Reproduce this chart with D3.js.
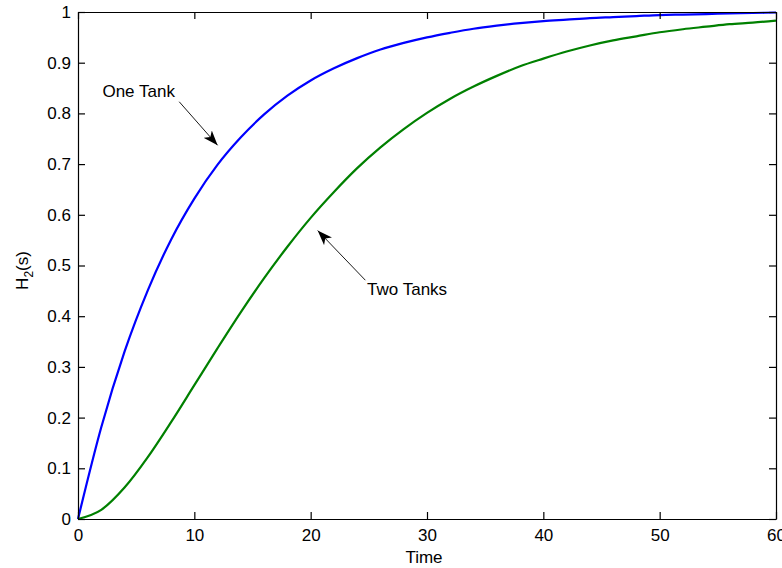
<!DOCTYPE html>
<html>
<head>
<meta charset="utf-8">
<script src="https://d3js.org/d3.v7.min.js"></script>
<style>
  body { margin: 0; background: #fff; }
  text { font-family: Arial, "Liberation Sans", sans-serif; fill: #000; }
</style>
</head>
<body>
<div id="chart"></div>
<script>
// time samples (every 2 time units) and values
var times = [0,2,4,6,8,10,12,14,16,18,20,22,24,26,28,30,32,34,36,38,40,42,44,46,48,50,52,54,56,58,60];
var oneTank = [0,0.181,0.330,0.451,0.551,0.632,0.699,0.753,0.798,0.835,0.865,0.889,0.909,0.926,0.939,0.950,
               0.959,0.967,0.973,0.978,0.982,0.985,0.988,0.990,0.992,0.994,0.995,0.996,0.997,0.998,0.999];
var twoTanks = [0,0.018,0.062,0.122,0.191,0.264,0.337,0.408,0.475,0.537,0.594,0.645,0.692,0.733,0.769,0.801,
                0.829,0.853,0.874,0.893,0.908,0.922,0.934,0.944,0.952,0.960,0.966,0.971,0.976,0.979,0.983];
var xTicks = [0,10,20,30,40,50,60];
var yTicks = [0,0.1,0.2,0.3,0.4,0.5,0.6,0.7,0.8,0.9,1];

// annotations in data units: label position, arrow tail, arrow tip
var notes = [
  {label: "One Tank",  tx: 2.1,   ty: 0.833, x1: 8.7,  y1: 0.823, x2: 12.0, y2: 0.737},
  {label: "Two Tanks", tx: 24.85, ty: 0.442, x1: 24.7, y1: 0.471, x2: 20.6, y2: 0.569}
];

function drawChart(){
    var w = 782, h = 568;
    var left = 78, right = 776, top = 12, bottom = 519;

    var svg = d3.select("#chart").append("svg")
        .attr("width", w).attr("height", h);

    var x = d3.scaleLinear().domain([0, 60]).range([left, right]);
    var y = d3.scaleLinear().domain([0, 1]).range([bottom, top]);

    // lines
    var series = [
        {vals: oneTank, color: "#0000ff"},
        {vals: twoTanks, color: "#008000"}
    ];
    var line = d3.line()
        .x(function(d){ return x(d[0]); })
        .y(function(d){ return y(d[1]); })
        .curve(d3.curveMonotoneX);

    svg.selectAll(".series")
        .data(series)
        .enter()
        .append("path")
        .attr("fill", "none")
        .attr("stroke", function(d){ return d.color; })
        .attr("stroke-width", 2.2)
        .attr("d", function(d){
            return line(times.map(function(t, i){ return [t, d.vals[i]]; }));
        });

    // axes box with inner ticks on all sides
    var fmt = function(d){ return d3.format("")(+d.toFixed(1)); };
    svg.append("g").attr("transform", "translate(0," + bottom + ")")
        .call(d3.axisBottom(x).tickValues(xTicks).tickSizeInner(-7).tickSizeOuter(0).tickPadding(10).tickFormat(fmt));
    svg.append("g").attr("transform", "translate(0," + top + ")")
        .call(d3.axisTop(x).tickValues(xTicks).tickSizeInner(-7).tickSizeOuter(0).tickFormat(""));
    svg.append("g").attr("transform", "translate(" + left + ",0)")
        .call(d3.axisLeft(y).tickValues(yTicks).tickSizeInner(-7).tickSizeOuter(0).tickPadding(7).tickFormat(fmt));
    svg.append("g").attr("transform", "translate(" + right + ",0)")
        .call(d3.axisRight(y).tickValues(yTicks).tickSizeInner(-7).tickSizeOuter(0).tickFormat(""));

    svg.selectAll(".domain").attr("stroke", "#000").attr("stroke-width", 1.2);
    svg.selectAll(".tick line").attr("stroke", "#000").attr("stroke-width", 1.2);
    svg.selectAll(".tick text")
        .style("font-family", "Arial, 'Liberation Sans', sans-serif")
        .style("font-size", "17px")
        .attr("fill", "#000");

    // axis labels
    svg.append("text")
        .attr("x", (left + right) / 2 - 3)
        .attr("y", 563)
        .attr("text-anchor", "middle")
        .style("font-size", "17px")
        .text("Time");

    var yl = svg.append("text")
        .attr("transform", "translate(28," + ((top + bottom) / 2 + 5) + ") rotate(-90)")
        .attr("text-anchor", "middle")
        .style("font-size", "17px");
    yl.append("tspan").text("H");
    yl.append("tspan").attr("dy", 5).style("font-size", "12px").text("2");
    yl.append("tspan").attr("dy", -5).text("(s)");

    // annotations with arrows
    var defs = svg.append("defs");
    defs.append("marker")
        .attr("id", "head")
        .attr("viewBox", "0 -6 15 12")
        .attr("refX", 15).attr("refY", 0)
        .attr("markerWidth", 15).attr("markerHeight", 12)
        .attr("markerUnits", "userSpaceOnUse")
        .attr("orient", "auto")
        .append("path")
        .attr("d", "M0,-5.5 L15,0 L0,5.5 L4,0 Z")
        .attr("fill", "#000");

    svg.selectAll(".arrow")
        .data(notes)
        .enter()
        .append("line")
        .attr("x1", function(d){ return x(d.x1); })
        .attr("y1", function(d){ return y(d.y1); })
        .attr("x2", function(d){ return x(d.x2); })
        .attr("y2", function(d){ return y(d.y2); })
        .attr("stroke", "#000")
        .attr("stroke-width", 0.9)
        .attr("marker-end", "url(#head)");

    svg.selectAll(".note")
        .data(notes)
        .enter()
        .append("text")
        .attr("x", function(d){ return x(d.tx); })
        .attr("y", function(d){ return y(d.ty); })
        .style("font-size", "17px")
        .text(function(d){ return d.label; });
}

window.onload = function(){
    drawChart();
};
</script>
</body>
</html>
